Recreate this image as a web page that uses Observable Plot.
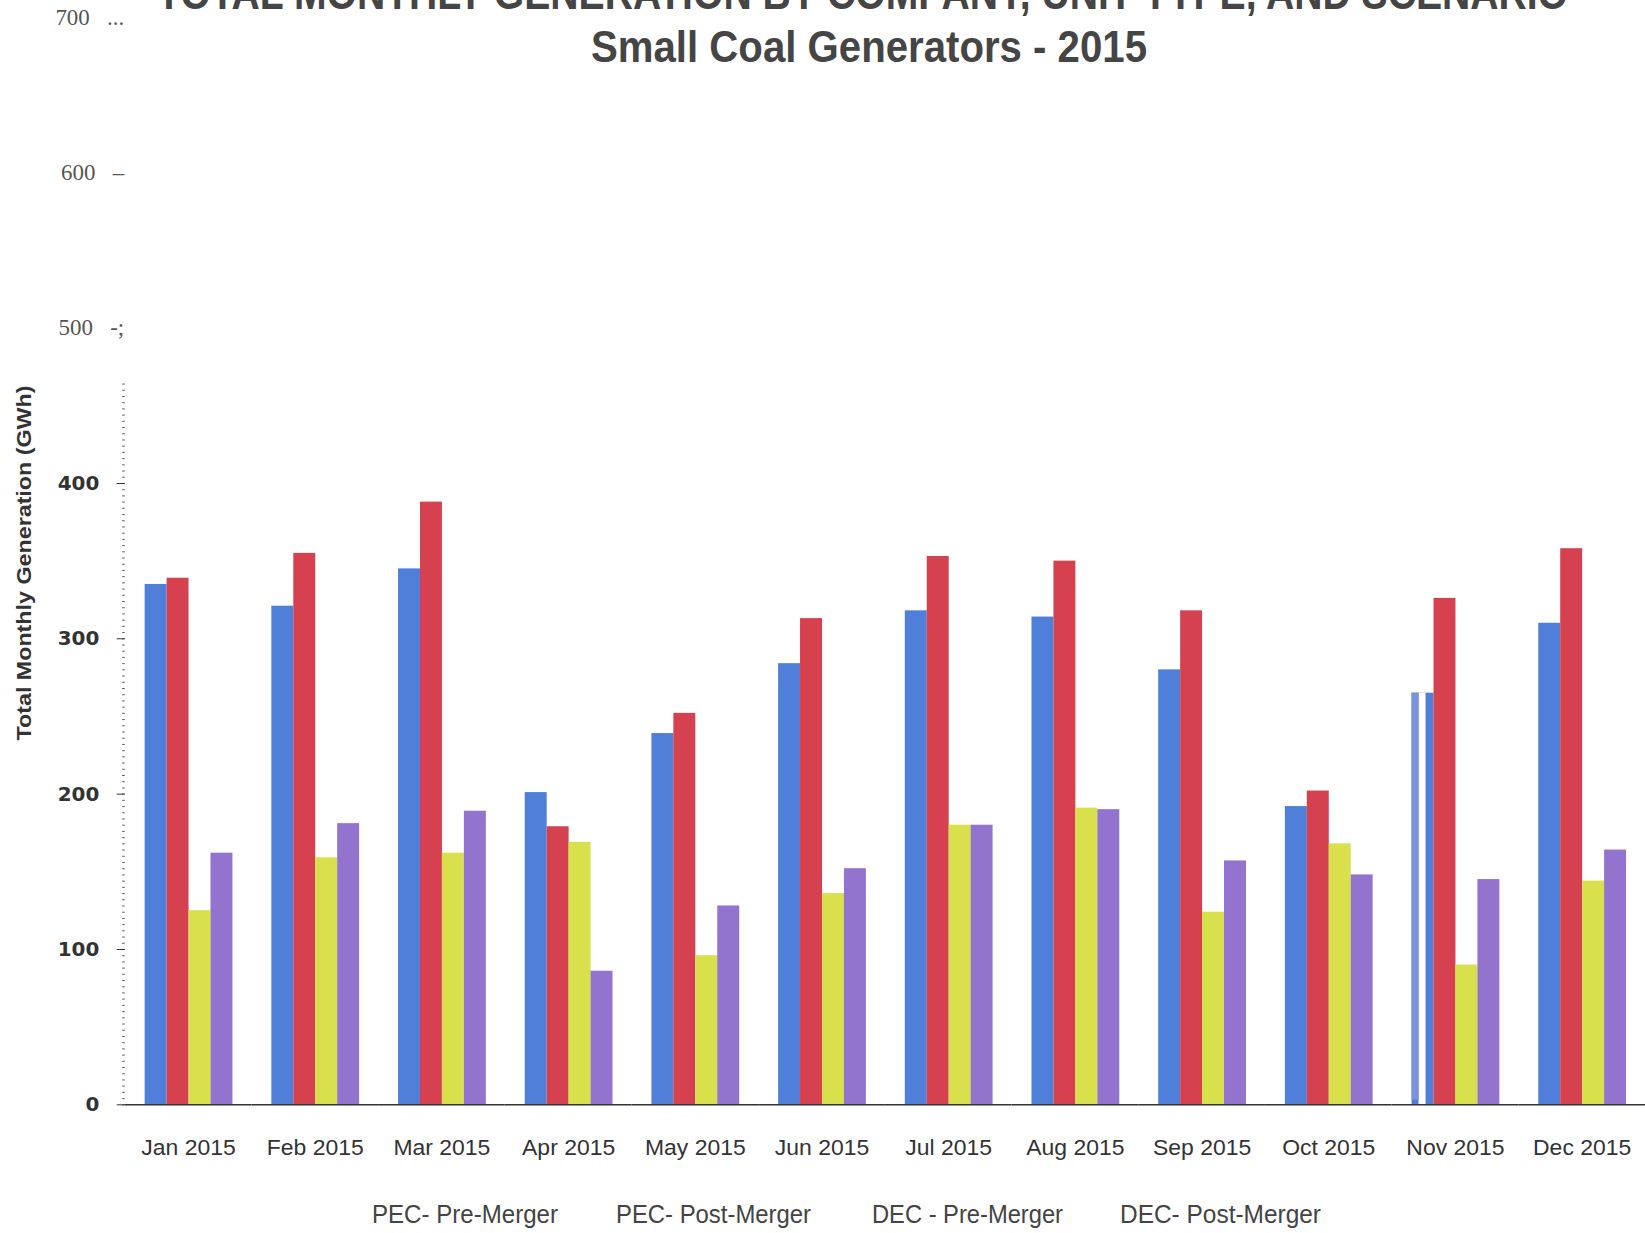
<!DOCTYPE html>
<html>
<head>
<meta charset="utf-8">
<script src="https://cdn.jsdelivr.net/npm/d3@7"></script>
<script src="https://cdn.jsdelivr.net/npm/@observablehq/plot@0.6"></script>
<style>
  html, body { margin: 0; padding: 0; background: #fff; overflow: hidden; }
  #page { position: relative; width: 1645px; height: 1233px; }
  #overlay { position: absolute; left: 0; top: 0; pointer-events: none; }
  #chart svg, #legend svg { display: block; }
</style>
</head>
<body>
<div id="page">
  <div id="chart"></div>
  <div id="legend"></div>
  <svg id="overlay" width="1645" height="1233"></svg>
</div>
<script>
// Months on the category axis
const months = ["Jan 2015", "Feb 2015", "Mar 2015", "Apr 2015", "May 2015", "Jun 2015",
                "Jul 2015", "Aug 2015", "Sep 2015", "Oct 2015", "Nov 2015", "Dec 2015"];

// Scenario series (legend order)
const seriesNames = ["PEC- Pre-Merger", "PEC- Post-Merger", "DEC - Pre-Merger", "DEC- Post-Merger"];
const seriesColors = ["#4f7fd8", "#d6414f", "#d8e14c", "#9273cd"];

// Total monthly generation, GWh
const pecPre  = [335, 321, 345, 201, 239, 284, 318, 314, 280, 192, 265, 310];
const pecPost = [339, 355, 388, 179, 252, 313, 353, 350, 318, 202, 326, 358];
const decPre  = [125, 159, 162, 169,  96, 136, 180, 191, 124, 168,  90, 144];
const decPost = [162, 181, 189,  86, 128, 152, 180, 190, 157, 148, 145, 164];

// Y-axis ticks: lower block in bold sans, upper block in serif with trailing marks
const lowerTicks = [0, 100, 200, 300, 400];
const upperTicks = [500, 600, 700];
const upperTickMarks = {500: "-;", 600: "–", 700: "..."};

// Patched-over November bar
const novPatch = [{month: "Nov 2015", series: "PEC- Pre-Merger", value: 265}];

const titleLine1 = "TOTAL MONTHLY GENERATION BY COMPANY, UNIT TYPE, AND SCENARIO";
const titleLine2 = "Small Coal Generators - 2015";
const yLabel = "Total Monthly Generation (GWh)";

const seriesValues = [pecPre, pecPost, decPre, decPost];
const data = months.flatMap((m, i) =>
  seriesNames.map((s, j) => ({month: m, series: s, value: seriesValues[j][i]})));

const chart = Plot.plot({
  width: 1649,
  height: 1190,
  marginTop: 17,
  marginBottom: 83,
  marginLeft: 125,
  marginRight: 0,
  style: {background: "white", overflow: "visible"},
  fx: {domain: months, padding: 0, label: null},
  x: {domain: seriesNames, paddingInner: 0, paddingOuter: 0.7609, align: 0.52, axis: null},
  y: {domain: [0, 700], axis: null, label: null},
  color: {domain: seriesNames, range: seriesColors},
  marks: [
    Plot.barY(data, {fx: "month", x: "series", y: "value", fill: "series"}),
    Plot.barY(novPatch, {fx: "month", x: "series", y: "value", fill: "white", insetLeft: 7, insetRight: 8}),
    Plot.barY(novPatch, {fx: "month", x: "series", y1: 3, y2: "value", fill: "#7b93dc", insetRight: 15}),
    Plot.ruleY([0], {stroke: "#333", strokeWidth: 1.5}),
    // dotted axis line
    Plot.axisY(d3.range(0, 466, 4), {tickSize: 2.5, tickFormat: () => "", stroke: "#555", label: null}),
    Plot.axisY(lowerTicks, {
      tickSize: 8, tickPadding: 18, fontSize: 20, fontWeight: "bold",
      fontFamily: "DejaVu Sans, sans-serif", color: "#333", label: null
    }),
    Plot.axisY(upperTicks, {
      tickSize: 0, tickPadding: 1, fontSize: 23, fontFamily: "Liberation Serif, serif",
      color: "#555", label: null,
      tickFormat: d => `${d}\u00a0\u00a0\u00a0${upperTickMarks[d]}`
    }),
    Plot.axisFx({
      anchor: "bottom", tickSize: 0, tickPadding: 34, fontSize: 23,
      fontFamily: "Liberation Sans, Arial, sans-serif", color: "#333", label: null
    })
  ]
});
document.getElementById("chart").append(chart);

// Legend: text-only entries under the chart
const legendX = [372, 616, 872, 1120];
const legendW = [186, 195, 191, 201];
const legend = d3.select("#legend").append("svg").attr("width", 1645).attr("height", 43);
legend.selectAll("text").data(seriesNames).join("text")
  .attr("x", (d, i) => legendX[i])
  .attr("y", 36)
  .attr("textLength", (d, i) => legendW[i])
  .attr("lengthAdjust", "spacingAndGlyphs")
  .attr("font-family", "Liberation Sans, Arial, sans-serif")
  .attr("font-size", 25)
  .attr("fill", "#444")
  .text(d => d);

// Titles and y-axis label
const overlay = d3.select("#overlay");
overlay.append("text")
  .attr("x", 862.5).attr("y", 8.5)
  .attr("text-anchor", "middle")
  .attr("textLength", 1411).attr("lengthAdjust", "spacingAndGlyphs")
  .attr("font-family", "Liberation Sans, Arial, sans-serif")
  .attr("font-weight", "bold").attr("font-size", 46).attr("fill", "#454545")
  .text(titleLine1);
overlay.append("text")
  .attr("x", 869).attr("y", 62)
  .attr("text-anchor", "middle")
  .attr("textLength", 556).attr("lengthAdjust", "spacingAndGlyphs")
  .attr("font-family", "Liberation Sans, Arial, sans-serif")
  .attr("font-weight", "bold").attr("font-size", 45).attr("fill", "#454545")
  .text(titleLine2);
overlay.append("text")
  .attr("transform", "translate(23,563) rotate(-90)")
  .attr("text-anchor", "middle")
  .attr("dominant-baseline", "central")
  .attr("textLength", 355).attr("lengthAdjust", "spacingAndGlyphs")
  .attr("font-family", "Liberation Sans, Arial, sans-serif")
  .attr("font-weight", "bold").attr("font-size", 21).attr("fill", "#333")
  .text(yLabel);
</script>
</body>
</html>
